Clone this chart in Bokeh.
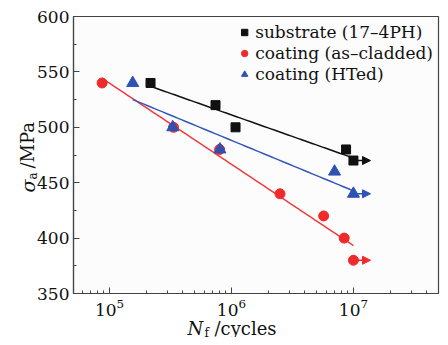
import numpy as np
from bokeh.plotting import figure
from bokeh.models import (Label, Arrow, NormalHead, FixedTicker, SingleIntervalTicker,
                          Legend, LegendItem)
from bokeh.embed import file_html
from bokeh.resources import INLINE

# ---- data ----
sub_N = [2.17e5, 7.4e5, 1.08e6, 8.7e6, 1.0e7]
sub_S = [540, 520, 500, 480, 470]
asc_N = [8.7e4, 3.35e5, 8.0e5, 2.5e6, 5.7e6, 8.4e6, 1.0e7]
asc_S = [540, 500, 480, 440, 420, 400, 380]
ht_N = [1.55e5, 3.3e5, 8.05e5, 7.0e6, 1.0e7]
ht_S = [540, 500, 480, 460, 440]
runout_N = 1.0e7
runout_S = {"sub": 470, "asc": 380, "ht": 440}
labels = ["substrate (17\u20134PH)", "coating (as\u2013cladded)", "coating (HTed)"]
x_major = [1e5, 1e6, 1e7]
x_minor = [m * 10.0 ** e for e in range(4, 8) for m in range(2, 10)]

C_SUB = "#111111"
C_ASC = "#ee2a2a"
C_HT = "#2d52b3"
FONT = "DejaVu Serif"

X0, X1 = 5.07e4, 4.98e7
Y0, Y1 = 350, 600
FW, FH = 365, 277      # frame size in px
EXTRA = 230            # hidden strip on the left that holds the axis-title panels

p = figure(width=440 + EXTRA, height=337, x_axis_type="log",
           x_range=(X0, X1), y_range=(Y0, Y1),
           output_backend="svg", toolbar_location=None,
           min_border_left=73 + EXTRA, min_border_right=2, min_border_top=16,
           min_border_bottom=44,
           background_fill_color="#fcfcfc", border_fill_color="white",
           styles={"margin-left": f"-{EXTRA}px"})
p.grid.visible = False
p.outline_line_color = "#444444"
p.outline_line_width = 1.2

p.xaxis.ticker = FixedTicker(ticks=x_major, minor_ticks=x_minor)
p.yaxis.ticker = SingleIntervalTicker(interval=50, num_minor_ticks=2)
for ax in (p.xaxis, p.yaxis):
    ax.major_tick_in = 6
    ax.major_tick_out = 0
    ax.minor_tick_in = 3
    ax.minor_tick_out = 0
    ax.axis_line_color = "#444444"
    ax.axis_line_width = 1.2
    ax.major_tick_line_color = "#444444"
    ax.minor_tick_line_color = "#444444"
    ax.major_label_text_font = FONT
    ax.major_label_text_color = "#111111"
p.yaxis.major_label_text_font_size = "17px"
p.xaxis.major_label_text_font_size = "17px"
p.yaxis.major_label_standoff = 4
p.xaxis.major_label_standoff = 5


def fit_line(N, S):
    logN = np.log10(np.asarray(N, dtype=float))
    b, a = np.polyfit(logN, np.asarray(S, dtype=float), 1)
    xs = np.logspace(logN.min(), logN.max(), 60)
    return xs, a + b * np.log10(xs)


for N, S, c in ((sub_N, sub_S, C_SUB), (asc_N, asc_S, "#f23a3a"), (ht_N, ht_S, "#3558b8")):
    xs, ys = fit_line(N, S)
    p.line(xs, ys, line_color=c, line_width=1.5)

for key, c in (("sub", C_SUB), ("asc", C_ASC), ("ht", C_HT)):
    p.add_layout(Arrow(end=NormalHead(size=8, fill_color=c, line_color=c),
                       x_start=runout_N, y_start=runout_S[key],
                       x_end=runout_N * 1.38, y_end=runout_S[key],
                       line_color=c, line_width=1.5))

r_sub = p.scatter(sub_N, sub_S, marker="square", size=9, color=C_SUB)
r_asc = p.scatter(asc_N, asc_S, marker="circle", size=10, color=C_ASC)
r_ht = p.scatter(ht_N, ht_S, marker="triangle", size=12, color=C_HT)

legend = Legend(items=[LegendItem(label=labels[0], renderers=[r_sub]),
                       LegendItem(label=labels[1], renderers=[r_asc]),
                       LegendItem(label=labels[2], renderers=[r_ht])],
                location="top_right", margin=5, padding=2, spacing=0,
                glyph_width=16, glyph_height=16, label_height=21, label_standoff=3,
                label_text_font=FONT, label_text_font_size="17px",
                label_text_color="#111111",
                background_fill_alpha=0, border_line_color=None)
p.add_layout(legend)


def fx(px):
    """frame-relative pixel offset -> data x (log axis)"""
    l0, l1 = np.log10(X0), np.log10(X1)
    return 10 ** (l0 + px / FW * (l1 - l0))


def fy(py):
    """frame-relative pixel offset (up from bottom) -> data y"""
    return Y0 + py / FH * (Y1 - Y0)


def mk(px, py, t, size, style="normal", angle=0.0):
    return Label(x=fx(px), y=fy(py), text=t,
                 text_font=FONT, text_font_size=size, text_font_style=style,
                 text_color="#111111", text_baseline="alphabetic",
                 text_align="left", angle=angle)

# axis titles live in the (partly hidden) left side panel so they are not clipped
for lbl in (mk(114, -35, "N", "18px", "italic"),
            mk(131, -39, "f", "12px"),
            mk(141, -35, "/cycles", "18px"),
            mk(-46, 101, "\u03c3", "19px", "italic", np.pi / 2),
            mk(-41, 114, "a", "12px", "normal", np.pi / 2),
            mk(-46, 125, "/MPa", "18px", "normal", np.pi / 2)):
    p.add_layout(lbl, "left")

open("out.html", "w").write(file_html(p, INLINE))
